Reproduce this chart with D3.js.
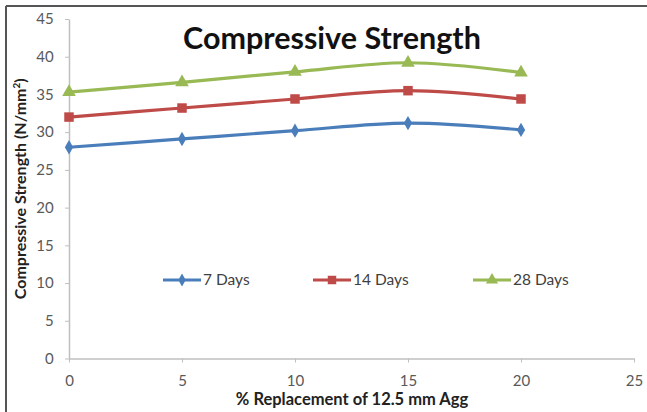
<!DOCTYPE html>
<html>
<head>
<meta charset="utf-8">
<script src="https://cdn.jsdelivr.net/npm/d3@7"></script>
<style>
  html, body { margin: 0; padding: 0; background: #fff; }
  svg { display: block; }
</style>
</head>
<body>
<svg id="chart" width="647" height="412"></svg>
<script>
// Compressive strength by replacement level of 12.5 mm aggregate
const replacement = [0, 5, 10, 15, 20];
const days7  = [28.0, 29.1, 30.2, 31.2, 30.3];
const days14 = [32.0, 33.2, 34.4, 35.5, 34.4];
const days28 = [35.3, 36.6, 38.0, 39.2, 37.9];
const seriesNames = ["7 Days", "14 Days", "28 Days"];
const seriesColors = ["#4a7ebb", "#be4b48", "#98b954"];
const xTicks = [0, 5, 10, 15, 20, 25];
const yTicks = [0, 5, 10, 15, 20, 25, 30, 35, 40, 45];

const svg = d3.select("#chart");
const W = 647, H = 412;
const font = "Lato, 'Open Sans', sans-serif";

// chart frame (top and left edges visible)
svg.append("line").attr("x1", 6).attr("x2", W).attr("y1", 6).attr("y2", 6)
  .attr("stroke", "#555").attr("stroke-width", 2);
svg.append("line").attr("x1", 6).attr("x2", 6).attr("y1", 6).attr("y2", H)
  .attr("stroke", "#555").attr("stroke-width", 2);

const x = d3.scaleLinear().domain([0, 25]).range([69, 634]);
const y = d3.scaleLinear().domain([0, 45]).range([358.5, 19]);

// axes
const xAxis = d3.axisBottom(x).tickValues(xTicks).tickSize(4).tickSizeOuter(0);
const yAxis = d3.axisLeft(y).tickValues(yTicks).tickSize(4).tickSizeOuter(0);

const gx = svg.append("g").attr("transform", `translate(0,${y(0)})`).call(xAxis);
const gy = svg.append("g").attr("transform", `translate(${x(0)},0)`).call(yAxis);
[gx, gy].forEach(g => {
  g.select(".domain").attr("stroke", "#bfbfbf").attr("stroke-width", 1.5);
  g.selectAll(".tick line").attr("stroke", "#bfbfbf");
  g.selectAll(".tick text").attr("fill", "#595959")
    .attr("font-family", font).attr("font-size", 15);
});
gx.selectAll(".tick text").attr("dy", "1.35em");
gy.selectAll(".tick text").attr("dx", "-0.55em");

// title
svg.append("text").attr("x", 332).attr("y", 49)
  .attr("text-anchor", "middle").attr("font-family", font)
  .attr("font-weight", "bold").attr("font-size", 30.5).attr("fill", "#111")
  .text("Compressive Strength");

// axis titles
svg.append("text").attr("x", 352).attr("y", 405)
  .attr("text-anchor", "middle").attr("font-family", font)
  .attr("font-weight", "bold").attr("font-size", 16.5).attr("fill", "#222")
  .text("% Replacement of 12.5 mm Agg");

svg.append("text")
  .attr("transform", `translate(26,${(y(0) + y(45)) / 2}) rotate(-90)`)
  .attr("text-anchor", "middle").attr("font-family", font)
  .attr("font-weight", "bold").attr("font-size", 16).attr("fill", "#222")
  .text("Compressive Strength (N/mm")
  .append("tspan").attr("baseline-shift", "super").attr("font-size", 10).text("2")
  .select(function () { return this.parentNode; })
  .append("tspan").text(")");

// series
const allSeries = [days7, days14, days28];
const line = d3.line()
  .x((d, i) => x(replacement[i]))
  .y(d => y(d))
  .curve(d3.curveCatmullRom.alpha(0));

const symbols = [d3.symbolDiamond, d3.symbolSquare, d3.symbolTriangle];
const symbolSizes = [60, 90, 80];

allSeries.forEach((vals, si) => {
  svg.append("path").datum(vals).attr("d", line)
    .attr("fill", "none").attr("stroke", seriesColors[si])
    .attr("stroke-width", 3.2).attr("stroke-linejoin", "round");
  svg.selectAll(null).data(vals).enter().append("path")
    .attr("d", d3.symbol().type(symbols[si]).size(symbolSizes[si]))
    .attr("transform", (d, i) => `translate(${x(replacement[i])},${y(d)})`)
    .attr("fill", seriesColors[si]);
});

// legend
const legendX = [163, 313, 473];
const legendY = 280;
seriesNames.forEach((name, si) => {
  const g = svg.append("g").attr("transform", `translate(${legendX[si]},${legendY})`);
  g.append("line").attr("x1", 0).attr("x2", 38).attr("y1", 0).attr("y2", 0)
    .attr("stroke", seriesColors[si]).attr("stroke-width", 3.2);
  g.append("path").attr("d", d3.symbol().type(symbols[si]).size(symbolSizes[si] * 0.8)())
    .attr("transform", "translate(19,0)").attr("fill", seriesColors[si]);
  g.append("text").attr("x", 40).attr("y", 0).attr("dy", "0.35em")
    .attr("font-family", font).attr("font-size", 15.5).attr("fill", "#404040")
    .text(name);
});
</script>
</body>
</html>
